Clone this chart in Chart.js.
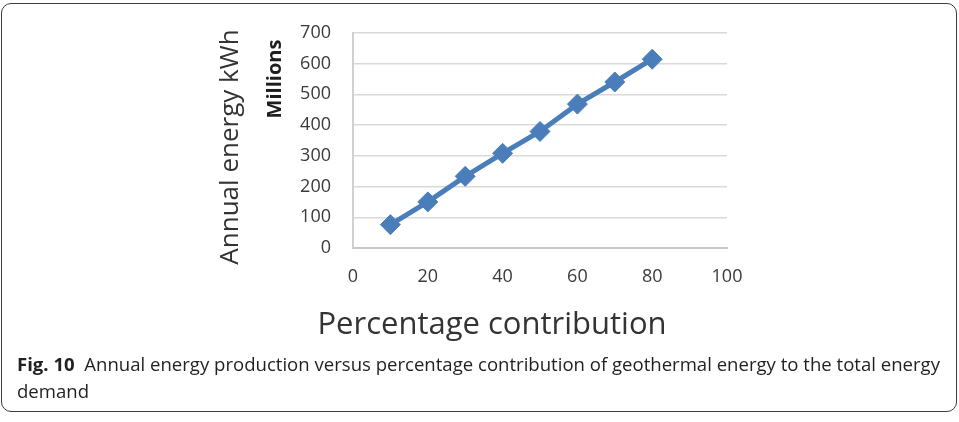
<!DOCTYPE html>
<html>
<head>
<meta charset="utf-8">
<script src="https://cdn.jsdelivr.net/npm/chart.js@4/dist/chart.umd.min.js"></script>
<style>
  html, body { margin: 0; padding: 0; background: #fff; }
  body { width: 959px; height: 422px; position: relative; overflow: hidden; font-family: "Open Sans", sans-serif; }
  #frame {
    position: absolute; left: 1px; top: 3px; width: 954px; height: 407px;
    border: 1.5px solid #3c3c3c; border-radius: 10px;
  }
  #chart { position: absolute; left: 0; top: 0; }
  .lbl { position: absolute; white-space: nowrap; }
  #yTitle {
    left: 228px; top: 147px; font-size: 26px; color: #333;
    transform: translate(-50%, -50%) rotate(-90deg);
  }
  #yUnit {
    left: 273px; top: 79px; font-size: 20px; font-weight: 700; color: #1e1e1e;
    transform: translate(-50%, -50%) rotate(-90deg);
  }
  #xTitle {
    left: 492px; top: 322px; font-size: 31px; color: #333;
    transform: translate(-50%, -50%);
  }
  .cap { left: 17px; font-size: 18px; color: #231f20; transform-origin: left center; }
  #cap1 { top: 352px; }
  #cap2 { top: 379px; }
</style>
</head>
<body>
<div id="frame"></div>
<canvas id="chart" width="959" height="422"></canvas>
<div class="lbl" id="yTitle">Annual energy kWh</div>
<div class="lbl" id="yUnit">Millions</div>
<div class="lbl" id="xTitle">Percentage contribution</div>
<div class="lbl cap" id="cap1"><b>Fig. 10</b>&nbsp; Annual energy production versus percentage contribution of geothermal energy to the total energy</div>
<div class="lbl cap" id="cap2">demand</div>

<script>
// ---------------------------------------------
// DATA
// ---------------------------------------------
const contribution = [10, 20, 30, 40, 50, 60, 70, 80];          // %
const energyMillions = [76, 150, 233, 308, 379, 468, 540, 614];  // kWh, millions

const xMin = 0, xMax = 100, xStep = 20;
const yMin = 0, yMax = 700, yStep = 100;

const blue = "#4a7ebb";

// ---------------------------------------------
// CHART
// ---------------------------------------------
const points = contribution.map((x, i) => ({ x: x, y: energyMillions[i] }));

new Chart(document.getElementById("chart"), {
    type: "scatter",
    data: {
        datasets: [{
            data: points,
            showLine: true,
            borderColor: blue,
            backgroundColor: blue,
            borderWidth: 5,
            pointStyle: "rectRot",
            pointRadius: 10,
            pointBorderWidth: 1,
            pointBorderColor: blue,
            pointBackgroundColor: blue
        }]
    },
    options: {
        responsive: false,
        animation: false,
        layout: { padding: { left: 0, top: 29, right: 232, bottom: 0 } },
        plugins: { legend: { display: false }, tooltip: { enabled: false } },
        scales: {
            x: {
                type: "linear",
                min: xMin, max: xMax,
                afterFit: s => { s.height = 422 - 248; },
                grid: { display: false, drawTicks: false },
                border: { color: "#c8c8c8", width: 2 },
                ticks: {
                    stepSize: xStep, padding: 18,
                    color: "#3a3a3a",
                    font: { family: "Open Sans", size: 18 }
                }
            },
            y: {
                min: yMin, max: yMax,
                afterFit: s => { s.width = 353; },
                grid: { color: "#d9d9d9", lineWidth: 1.5, drawTicks: false },
                border: { color: "#d0d0d0", width: 2 },
                ticks: {
                    stepSize: yStep, padding: 22,
                    color: "#3a3a3a",
                    font: { family: "Open Sans", size: 18 }
                }
            }
        }
    }
});

// squeeze caption lines to the condensed width of the original
function fitWidth(id, target)
{
    const el = document.getElementById(id);
    const w = el.getBoundingClientRect().width;
    el.style.transform = "scaleX(" + (target / w) + ")";
}
fitWidth("cap1", 923);
fitWidth("cap2", 72);
</script>
</body>
</html>
